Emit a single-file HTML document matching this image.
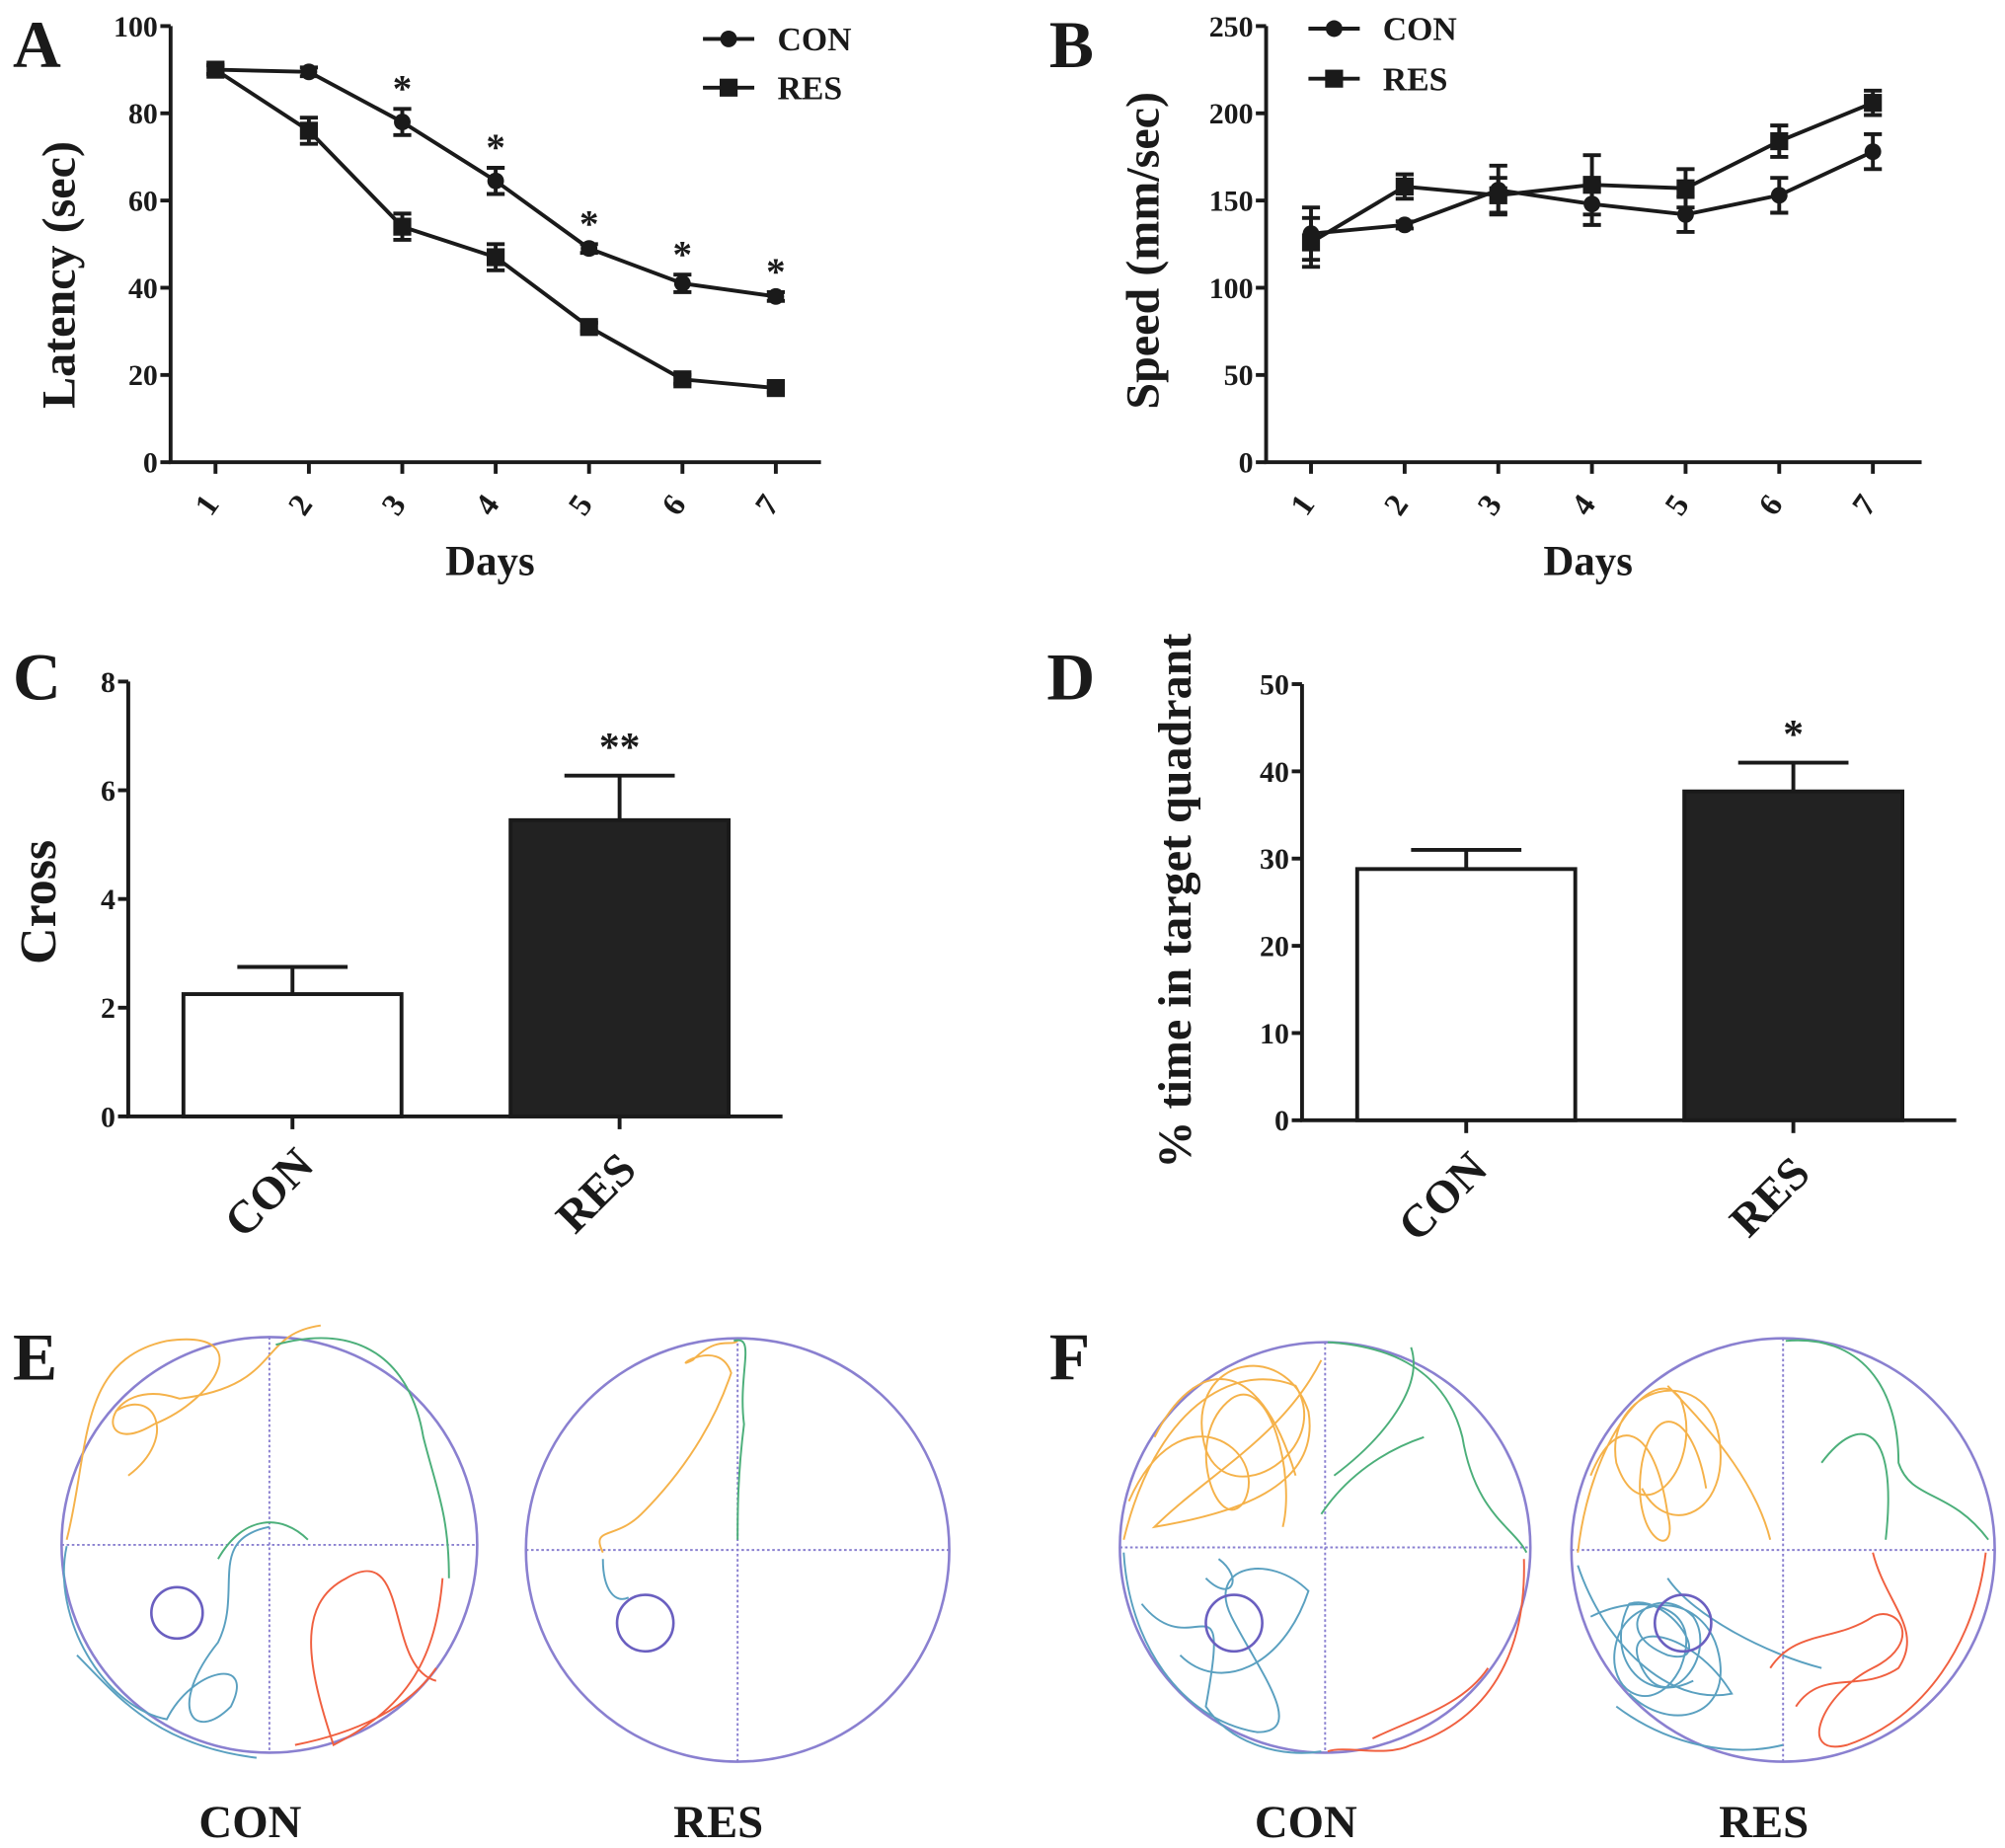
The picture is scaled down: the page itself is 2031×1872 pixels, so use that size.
<!DOCTYPE html>
<html><head><meta charset="utf-8"><style>
html,body{margin:0;padding:0;background:#fff}
svg{display:block}
text{font-family:"Liberation Serif",serif;font-weight:bold;fill:#1a1a1a}
</style></head><body>
<svg id="fig" width="2031" height="1872" viewBox="0 0 1563 1440" xmlns="http://www.w3.org/2000/svg"></svg>
<script>
// Panel A data
const daysA = [1,2,3,4,5,6,7];
const latCON = [90,89.5,78,64.5,49,41,38];
const latCONerr = [1,1,3,3,1,2,1];
const latRES = [90,76,54,47,31,19,17];
const latRESerr = [1,3,3,3,1,1,1];
const latStars = [false,false,true,true,true,true,true];
const latTicks = [0,20,40,60,80,100];
// Panel B data
const spdCON = [131,136,156,148,142,153,178];
const spdCONerr = [15,2,14,12,10,10,10];
const spdRES = [126,158,153,159,157,184,206];
const spdRESerr = [14,7,10,17,11,9,7];
const spdTicks = [0,50,100,150,200,250];
// Panel C data
const groups = ["CON","RES"];
const crossVals = [2.25,5.45];
const crossErr = [0.5,0.82];
const crossTicks = [0,2,4,6,8];
// Panel D data
const quadVals = [28.8,37.7];
const quadErr = [2.2,3.3];
const quadTicks = [0,10,20,30,40,50];

const svg = document.getElementById('fig');
const NS = 'http://www.w3.org/2000/svg';
function el(tag, attrs, parent){const e=document.createElementNS(NS,tag);for(const k in attrs)e.setAttribute(k,attrs[k]);(parent||svg).appendChild(e);return e;}
function txt(s,x,y,size,anchor,parent,rot){const t=el('text',{x:x,y:y,'font-size':size,'text-anchor':anchor||'middle'},parent);if(rot!==undefined)t.setAttribute('transform',`rotate(${rot} ${x} ${y})`);t.textContent=s;return t;}

function panelLetter(s,x,y){const t=txt(s,x,y,52,'start');

}

function linePanel(cfg){
  const g=el('g',{});
  
  
  const xs=d=>cfg.x1+(d-1)*cfg.dx;
  const ys=v=>cfg.y0-(v-cfg.ymin)/(cfg.ymax-cfg.ymin)*(cfg.y0-cfg.ytop);
  const ax=el('path',{d:`M${cfg.ax} ${cfg.ytop}V${cfg.y0}H${cfg.xend}`,stroke:'#1a1a1a','stroke-width':3,fill:'none'},g);
  
  
  cfg.ticks.forEach(t=>{el('line',{x1:cfg.ax-8,x2:cfg.ax,y1:ys(t),y2:ys(t),stroke:'#1a1a1a','stroke-width':3},g);
    const l=txt(String(t),cfg.ax-10,ys(t)+8,23,'end',g);
    
    });
  daysA.forEach(d=>{el('line',{x1:xs(d),x2:xs(d),y1:cfg.y0,y2:cfg.y0+9,stroke:'#1a1a1a','stroke-width':3},g);
    const l=txt(String(d),xs(d),cfg.y0+38,25,'middle',g,-55);
    
    });
  const xt=txt('Days',cfg.dxc,cfg.y0+88,33,'middle',g);
  
  
  const yt=txt(cfg.ytitle,cfg.ytx,cfg.ytc,cfg.yts,'middle',g,-90);
  
  
  cfg.series.forEach(s=>{
    const pts=s.v.map((v,i)=>`${xs(daysA[i])},${ys(v)}`).join(' ');
    const pl=el('polyline',{points:pts,fill:'none',stroke:'#1a1a1a','stroke-width':3},g);
    
    
    s.v.forEach((v,i)=>{
      const x=xs(daysA[i]),e=s.e[i];
      el('path',{d:`M${x} ${ys(v+e)}V${ys(v-e)}M${x-7} ${ys(v+e)}H${x+7}M${x-7} ${ys(v-e)}H${x+7}`,stroke:'#1a1a1a','stroke-width':3,fill:'none'},g);
      let m;
      if(s.n==='con') m=el('circle',{cx:x,cy:ys(v),r:6.5,fill:'#1a1a1a'},g);
      else m=el('rect',{x:x-7,y:ys(v)-7,width:14,height:14,fill:'#1a1a1a'},g);
      
      
      if(s.stars&&s.stars[i]){const st=txt('*',x,ys(v+e)-6,30,'middle',g);st.setAttribute('font-weight','normal');
        
        }
    });
  });
  [['CON',cfg.leg[1],'con'],['RES',cfg.leg[2],'res']].forEach(([n,y,k])=>{
    const lg=el('g',{},g);
    
    
    el('line',{x1:cfg.leg[0],x2:cfg.leg[0]+40,y1:y,y2:y,stroke:'#1a1a1a','stroke-width':3},lg);
    if(k==='con')el('circle',{cx:cfg.leg[0]+20,cy:y,r:6.5,fill:'#1a1a1a'},lg);
    else el('rect',{x:cfg.leg[0]+13,y:y-7,width:14,height:14,fill:'#1a1a1a'},lg);
    txt(n,cfg.leg[0]+58,y+9,26,'start',lg);
  });
}

linePanel({name:'panel-a-latency-chart',x1:168,dx:72.8,ax:133,xend:640,y0:360,ytop:20,ymin:0,ymax:100,ticks:latTicks,ytitle:'Latency (sec)',ytx:58,ytc:214,yts:37,dxc:382,
  series:[{n:'con',v:latCON,e:latCONerr,stars:latStars},{n:'res',v:latRES,e:latRESerr}],leg:[548,30,68]});
linePanel({name:'panel-b-speed-chart',x1:1022,dx:73,ax:987,xend:1498,y0:360,ytop:20,ymin:0,ymax:250,ticks:spdTicks,ytitle:'Speed  (mm/sec)',ytx:903,ytc:195,yts:37,dxc:1238,
  series:[{n:'con',v:spdCON,e:spdCONerr},{n:'res',v:spdRES,e:spdRESerr}],leg:[1020,22,61]});
panelLetter('A',10,52);panelLetter('B',818,52);

function barPanel(cfg){
  const g=el('g',{});
  
  
  const ys=v=>cfg.y0-v/cfg.ymax*(cfg.y0-cfg.ytop);
  const ax=el('path',{d:`M${cfg.ax} ${cfg.ytop}V${cfg.y0}H${cfg.xend}`,stroke:'#1a1a1a','stroke-width':3,fill:'none'},g);
  
  
  cfg.ticks.forEach(t=>{el('line',{x1:cfg.ax-8,x2:cfg.ax,y1:ys(t),y2:ys(t),stroke:'#1a1a1a','stroke-width':3},g);
    const l=txt(String(t),cfg.ax-10,ys(t)+8,23,'end',g);
    
    });
  const yt=txt(cfg.ytitle,cfg.ytx,cfg.ytc,cfg.ytsize,'middle',g,-90);
  
  
  groups.forEach((gname,i)=>{
    const cx=cfg.cx[i],v=cfg.vals[i],e=cfg.err[i];
    el('path',{d:`M${cx} ${ys(v)}V${ys(v+e)}M${cx-43} ${ys(v+e)}H${cx+43}`,stroke:'#1a1a1a','stroke-width':3,fill:'none'},g);
    const b=el('rect',{x:cx-85,y:ys(v),width:170,height:cfg.y0-ys(v),fill:i?'#222':'#fff',stroke:'#1a1a1a','stroke-width':3},g);
    
    
    el('line',{x1:cx,x2:cx,y1:cfg.y0,y2:cfg.y0+10,stroke:'#1a1a1a','stroke-width':3},g);
    const l=txt(gname,cx-10,cfg.y0+68,36,'middle',g,-45);
    
    
  });
  const st=txt(cfg.star,cfg.cx[1],ys(cfg.vals[1]+cfg.err[1])-12,32,'middle',g);
  st.setAttribute('font-weight','normal');
  
  
}
barPanel({name:'panel-c-cross-chart',ax:100,xend:610,y0:870,ytop:531,ymax:8,ticks:crossTicks,vals:crossVals,err:crossErr,cx:[228,483],ytitle:'Cross',ytx:43,ytc:703,ytsize:40,star:'**'});
barPanel({name:'panel-d-quadrant-chart',ax:1015,xend:1525,y0:873,ytop:533,ymax:50,ticks:quadTicks,vals:quadVals,err:quadErr,cx:[1143,1398],ytitle:'% time in target quadrant',ytx:928,ytc:702,ytsize:37,star:'*'});
panelLetter('C',10,545);panelLetter('D',816,545);

// Panels E/F: swim tracks
const arenas=[
 {n:'e-con',cx:210,cy:1204,r:162,lab:'CON',
  paths:[['#f5b24a','M52 1200 C70 1130 60 1060 130 1045 C200 1035 170 1090 120 1110 C70 1140 80 1070 140 1090 C220 1080 200 1040 250 1033 M100 1150 C140 1120 120 1080 90 1100'],
         ['#4caf7a','M215 1048 C280 1030 320 1060 330 1120 C340 1160 350 1180 350 1230 M170 1215 C190 1180 220 1180 240 1200'],
         ['#5aa0c0','M52 1205 C40 1260 80 1330 130 1340 C150 1300 200 1290 180 1330 C150 1360 130 1330 170 1280 C190 1240 160 1200 210 1190 M60 1290 C90 1320 120 1360 200 1370'],
         ['#f06040','M345 1230 C340 1290 320 1330 260 1360 C240 1300 230 1250 270 1230 C320 1200 300 1300 340 1310 M230 1360 C280 1350 320 1330 340 1300']],
  small:[138,1257,20]},
 {n:'e-res',cx:575,cy:1208,r:165,lab:'RES',
  paths:[['#f5b24a','M470 1210 C460 1190 480 1200 500 1180 C540 1140 560 1100 570 1070 C560 1040 520 1070 540 1060 C560 1040 570 1050 575 1045'],
         ['#4caf7a','M572 1045 C590 1040 575 1070 580 1110 C575 1150 575 1180 575 1200'],
         ['#5aa0c0','M470 1215 C470 1240 480 1250 490 1245']],
  small:[503,1265,22]},
 {n:'f-con',cx:1033,cy:1206,r:160,lab:'CON',
  paths:[['#f5b24a','M876 1200 C900 1100 960 1060 1010 1080 C1040 1130 960 1180 940 1130 C920 1060 1000 1040 1020 1100 C1030 1160 960 1180 900 1190 C940 1150 1000 1120 1030 1060 M880 1170 C920 1080 990 1130 970 1170 C950 1200 920 1120 960 1090 C990 1070 1010 1150 1000 1190 M900 1120 C930 1060 980 1050 1010 1150'],
         ['#4caf7a','M1035 1046 C1100 1050 1130 1080 1140 1120 C1150 1180 1180 1190 1190 1210 M1110 1120 C1080 1130 1050 1150 1030 1180 M1040 1150 C1080 1120 1110 1080 1100 1050'],
         ['#5aa0c0','M876 1210 C880 1280 920 1340 980 1350 C1020 1350 980 1300 960 1260 C940 1220 990 1210 1020 1240 C1000 1300 950 1320 920 1290 M890 1250 C930 1300 960 1220 940 1330 C960 1360 1000 1370 1030 1365 M950 1215 C970 1230 960 1250 940 1230'],
         ['#f06040','M1188 1215 C1190 1290 1160 1340 1100 1360 C1080 1370 1050 1360 1035 1365 M1160 1300 C1140 1330 1100 1340 1070 1355']],
  small:[962,1265,22]},
 {n:'f-res',cx:1390,cy:1208,r:165,lab:'RES',
  paths:[['#f5b24a','M1230 1210 C1240 1120 1290 1060 1310 1090 C1330 1140 1280 1200 1260 1140 C1250 1080 1330 1060 1340 1120 C1350 1180 1300 1200 1280 1160 M1300 1080 C1340 1120 1370 1160 1380 1200 M1240 1150 C1260 1100 1290 1110 1300 1180 C1310 1220 1270 1200 1280 1140 C1290 1090 1320 1100 1330 1160'],
         ['#4caf7a','M1392 1045 C1450 1040 1480 1080 1480 1140 C1490 1170 1520 1160 1550 1200 M1420 1140 C1450 1100 1480 1110 1470 1200'],
         ['#5aa0c0','M1230 1220 C1250 1280 1300 1330 1350 1320 C1320 1270 1260 1260 1280 1300 C1300 1340 1340 1290 1320 1260 C1290 1230 1250 1270 1300 1290 C1340 1300 1300 1240 1270 1250 C1250 1290 1280 1330 1320 1310 M1240 1260 C1280 1240 1330 1250 1310 1300 C1290 1340 1250 1320 1260 1280 C1270 1240 1330 1240 1340 1290 C1350 1340 1300 1350 1270 1320 M1260 1330 C1300 1360 1350 1370 1390 1360 M1300 1230 C1320 1260 1380 1290 1420 1300'],
         ['#f06040','M1548 1210 C1540 1280 1500 1340 1440 1360 C1400 1370 1420 1320 1460 1300 C1500 1280 1480 1250 1460 1260 C1430 1280 1400 1270 1380 1300 M1460 1210 C1470 1250 1500 1270 1480 1300 C1450 1320 1420 1300 1400 1330']],
  small:[1312,1265,22]}
];
arenas.forEach(a=>{
  const g=el('g',{});
  
  
  el('circle',{cx:a.cx,cy:a.cy,r:a.r,fill:'none',stroke:'#8a80d0','stroke-width':2},g);
  el('path',{d:`M${a.cx-a.r} ${a.cy}H${a.cx+a.r}M${a.cx} ${a.cy-a.r}V${a.cy+a.r}`,stroke:'#8a80d0','stroke-width':1.5,'stroke-dasharray':'2 2',fill:'none'},g);
  a.paths.forEach(([c,d])=>el('path',{d:d,stroke:c,'stroke-width':1.5,fill:'none'},g));
  el('circle',{cx:a.small[0],cy:a.small[1],r:a.small[2],fill:'none',stroke:'#6a5fc0','stroke-width':2},g);
  const l=txt(a.lab,a.cx-15,1432,36,'middle',g);
  
  
});
panelLetter('E',10,1075);panelLetter('F',818,1075);
</script>
</body></html>
